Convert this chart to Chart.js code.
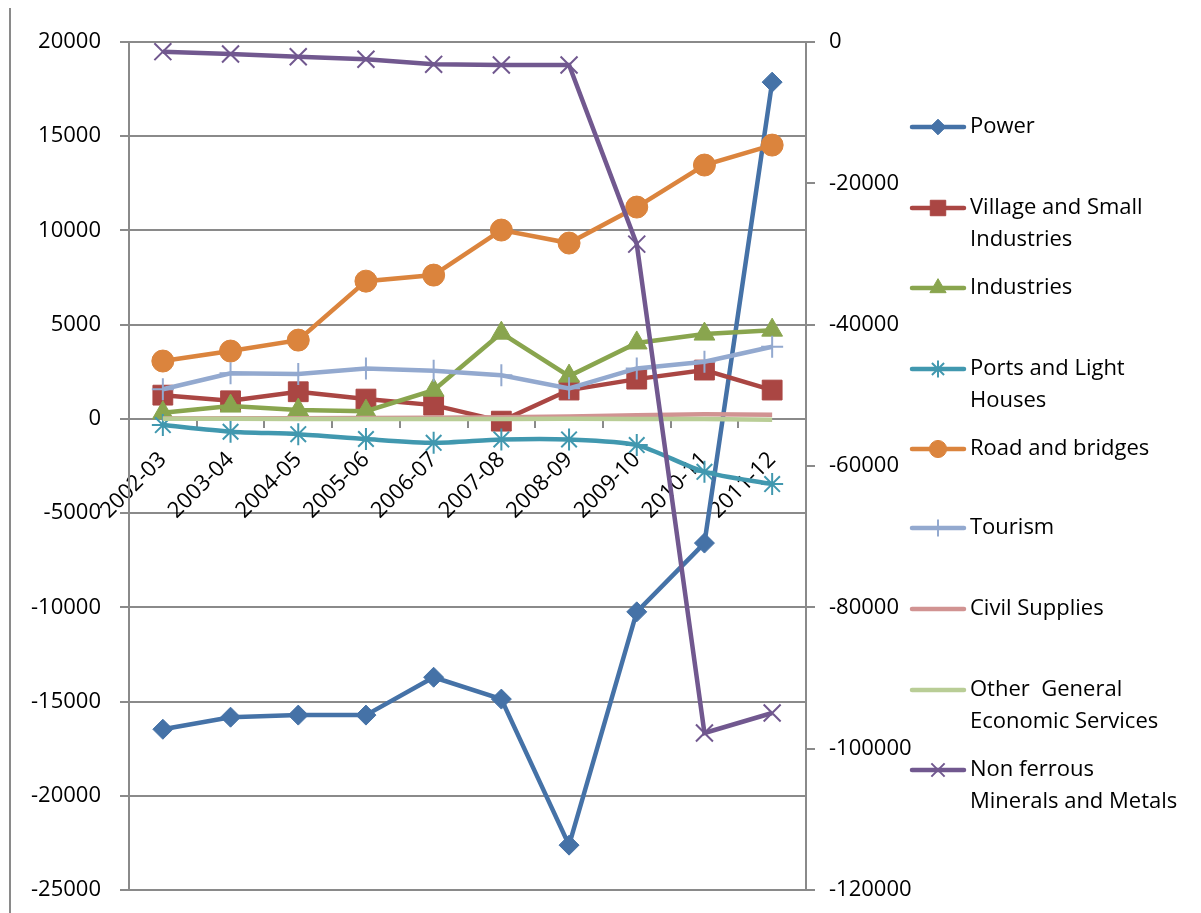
<!DOCTYPE html>
<html>
<head>
<meta charset="utf-8">
<title>Sector-wise trend</title>
<script src="https://cdn.jsdelivr.net/npm/chart.js@4.4.1/dist/chart.umd.min.js"></script>
<style>
  html, body { margin: 0; padding: 0; background: #ffffff; }
  #wrap { width: 1201px; height: 913px; }
</style>
</head>
<body>
<div id="wrap"><canvas id="c" width="1201" height="913"></canvas></div>
<script>
// Financial years on the category axis
const years = ['2002-03', '2003-04', '2004-05', '2005-06', '2006-07', '2007-08', '2008-09', '2009-10', '2010-11', '2011-12'];

// Series plotted against the left axis
const power = [-16470, -15830, -15720, -15720, -13710, -14870, -22620, -10240, -6590, 17870];
const villageSmallIndustries = [1260, 960, 1440, 1050, 730, -120, 1530, 2110, 2590, 1530];
const industries = [320, 680, 470, 410, 1520, 4550, 2270, 4030, 4500, 4710];
const portsLightHouses = [-330, -680, -810, -1070, -1270, -1090, -1090, -1390, -2810, -3460];
const roadBridges = [3070, 3600, 4180, 7310, 7630, 10020, 9330, 11240, 13470, 14530];
const tourism = [1570, 2420, 2380, 2680, 2550, 2320, 1620, 2680, 3030, 3830];
const civilSupplies = [20, 30, 40, 50, 60, 90, 130, 190, 240, 220];
const otherGeneral = [10, 10, 0, 0, 0, 0, 10, 0, -10, -40];

// Series plotted against the right axis
const nonFerrous = [-1370, -1700, -2080, -2450, -3160, -3250, -3250, -28600, -97780, -94950];

// Axis ranges
const leftTicks = { min: -25000, max: 20000, step: 5000 };
const rightTicks = { min: -120000, max: 0, step: 20000 };

const FONT = '"Open Sans", "Liberation Sans", sans-serif';
const GRID = '#8a8a8a';

const seriesDefs = [
  { label: ['Power'], data: power, color: '#4572A7', style: 'rectRot', r: 10, bw: 1, axis: 'y' },
  { label: ['Village and Small', 'Industries'], data: villageSmallIndustries, color: '#AA4643', style: 'rect', r: 14, bw: 1, axis: 'y' },
  { label: ['Industries'], data: industries, color: '#89A54E', style: 'triangle', r: 12, bw: 1, axis: 'y' },
  { label: ['Ports and Light', 'Houses'], data: portsLightHouses, color: '#4198AF', style: 'star', r: 11, bw: 2, axis: 'y', tension: 0.25 },
  { label: ['Road and bridges'], data: roadBridges, color: '#DB843D', style: 'circle', r: 11, bw: 1, axis: 'y' },
  { label: ['Tourism'], data: tourism, color: '#93A9CF', style: 'cross', r: 11, bw: 2, axis: 'y' },
  { label: ['Civil Supplies'], data: civilSupplies, color: '#D19392', style: false, r: 0, bw: 0, axis: 'y' },
  { label: ['Other  General', 'Economic Services'], data: otherGeneral, color: '#B9CD96', style: false, r: 0, bw: 0, axis: 'y' },
  { label: ['Non ferrous', 'Minerals and Metals'], data: nonFerrous, color: '#71588F', style: 'crossRot', r: 12, bw: 2, axis: 'y2' }
];

const datasets = seriesDefs.map((s, i) => ({
  label: s.label.join(' '),
  data: s.data,
  yAxisID: s.axis,
  borderColor: s.color,
  backgroundColor: s.color,
  borderWidth: 4.5,
  tension: s.tension || 0,
  pointStyle: s.style,
  pointRadius: s.style ? s.r : 0,
  pointHoverRadius: s.style ? s.r : 0,
  pointBorderWidth: s.bw,
  pointBorderColor: s.color,
  pointBackgroundColor: s.color,
  order: seriesDefs.length - i
}));

// Draws the outer frame line and the legend to the right of the plot
const sideDecor = {
  id: 'sideDecor',
  beforeDraw(chart) {
    const ctx = chart.ctx;
    ctx.save();
    ctx.fillStyle = '#ffffff';
    ctx.fillRect(0, 0, chart.width, chart.height);
    ctx.restore();
  },
  afterDraw(chart) {
    const ctx = chart.ctx;
    ctx.save();
    ctx.strokeStyle = GRID;
    ctx.lineWidth = 2;
    ctx.beginPath();
    ctx.moveTo(10, 8);
    ctx.lineTo(10, 913);
    ctx.stroke();

    const lineX0 = 910, lineX1 = 966, textX = 970;
    const firstY = [127, 208, 288, 369, 449, 528, 609, 690, 770];
    const lineGap = 32;
    ctx.font = '22px ' + FONT;
    ctx.textBaseline = 'middle';
    ctx.textAlign = 'left';
    seriesDefs.forEach((s, i) => {
      const y = firstY[i];
      ctx.strokeStyle = s.color;
      ctx.fillStyle = s.color;
      ctx.lineWidth = 4.5;
      ctx.lineCap = 'round';
      ctx.beginPath();
      ctx.moveTo(lineX0 + 2, y);
      ctx.lineTo(lineX1 - 2, y);
      ctx.stroke();
      if (s.style) {
        ctx.lineCap = 'butt';
        ctx.lineWidth = s.bw;
        Chart.helpers.drawPoint(ctx, {
          pointStyle: s.style,
          radius: s.r * 0.78,
          rotation: 0,
          borderWidth: s.bw
        }, (lineX0 + lineX1) / 2, y);
      }
      ctx.fillStyle = '#000000';
      s.label.forEach((t, k) => ctx.fillText(t, textX, y + k * lineGap));
    });
    ctx.restore();
  }
};

// Keeps the vertical axes from reserving extra room above and below the plot
function fixVerticalAxis(width) {
  return function (scale) {
    scale.width = width;
    scale.paddingTop = 0;
    scale.paddingBottom = 0;
  };
}

const chart = new Chart(document.getElementById('c'), {
  type: 'line',
  data: { labels: years, datasets: datasets },
  plugins: [sideDecor],
  options: {
    responsive: false,
    devicePixelRatio: 1,
    animation: false,
    layout: { padding: { left: 0, right: 275, top: 42, bottom: 23 } },
    plugins: {
      legend: { display: false },
      tooltip: { enabled: false },
      title: { display: false }
    },
    scales: {
      x: {
        type: 'category',
        position: { y: 0 },
        offset: true,
        border: { display: true, color: GRID, width: 2 },
        grid: { display: true, offset: true, drawOnChartArea: false, drawTicks: true, tickLength: 8, color: GRID, lineWidth: 2 },
        ticks: {
          autoSkip: false,
          minRotation: 45,
          maxRotation: 45,
          padding: 20,
          color: '#000000',
          font: { family: FONT, size: 22 }
        }
      },
      y: {
        position: 'left',
        min: leftTicks.min,
        max: leftTicks.max,
        afterFit: fixVerticalAxis(129),
        afterBuildTicks(scale) {
          const t = [];
          for (let v = leftTicks.min; v <= leftTicks.max; v += leftTicks.step) t.push({ value: v });
          scale.ticks = t;
        },
        border: { display: true, color: GRID, width: 2 },
        grid: { color: GRID, lineWidth: 2, tickLength: 9, drawTicks: true },
        ticks: {
          padding: 19,
          color: '#000000',
          font: { family: FONT, size: 22 },
          callback: v => String(v)
        }
      },
      y2: {
        position: 'right',
        min: rightTicks.min,
        max: rightTicks.max,
        afterFit: fixVerticalAxis(120),
        afterBuildTicks(scale) {
          const t = [];
          for (let v = rightTicks.min; v <= rightTicks.max; v += rightTicks.step) t.push({ value: v });
          scale.ticks = t;
        },
        border: { display: true, color: GRID, width: 2 },
        grid: { drawOnChartArea: false, color: GRID, lineWidth: 2, tickLength: 9, drawTicks: true },
        ticks: {
          padding: 14,
          color: '#000000',
          font: { family: FONT, size: 22 },
          callback: v => String(v)
        }
      }
    }
  }
});
</script>
</body>
</html>
